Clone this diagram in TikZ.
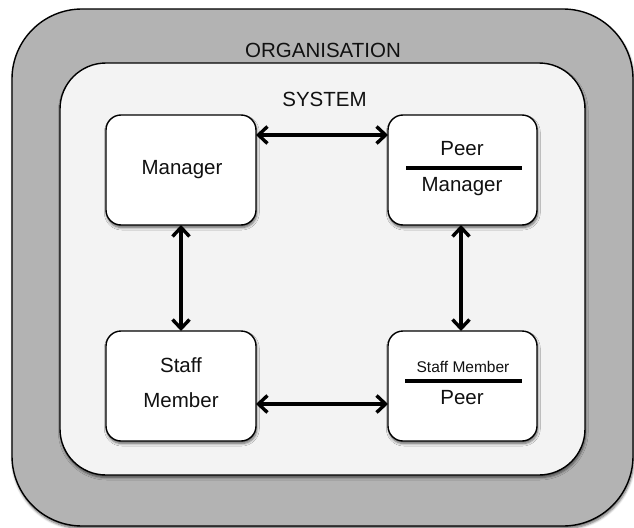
\documentclass[tikz,border=0pt]{standalone}
\usepackage{fontspec}
\setmainfont{Liberation Sans}
\usetikzlibrary{arrows.meta,shadows.blur}
\definecolor{orggray}{HTML}{B3B3B3}
\definecolor{sysgray}{HTML}{F3F3F3}
\definecolor{txt}{HTML}{111111}
\tikzset{
  frame/.style={draw=black, line width=1.4pt},
  boxshadow/.style={blur shadow={shadow xshift=0.8pt, shadow yshift=-2.5pt, shadow blur steps=6, shadow blur radius=2.5pt, shadow opacity=60}},
  rolebox/.style={frame, fill=white, rounded corners=15pt, boxshadow},
  lbl/.style={anchor=base, inner sep=0pt, text=txt, font=\fontsize{20.5}{24}\selectfont},
  smalllbl/.style={anchor=base, inner sep=0pt, text=txt, font=\fontsize{15.5}{18}\selectfont},
  link/.style={line width=3.4pt, {Straight Barb[length=9pt,width=17pt]}-{Straight Barb[length=9pt,width=17pt]}},
  divider/.style={line width=3.6pt}
}
\begin{document}
\begin{tikzpicture}[x=1pt,y=-1pt]
\useasboundingbox (0,0) rectangle (634,527);
% organisation
\path[frame, fill=orggray, rounded corners=70pt, boxshadow] (12,9) rectangle (633,526);
\node[lbl] (org) at (323,57) {ORGANISATION};
% system
\path[frame, fill=sysgray, rounded corners=46pt, boxshadow] (60,63) rectangle (585,475);
\node[lbl] (sys) at (324.5,106) {SYSTEM};
% boxes
\path[rolebox] (106,115) rectangle (256,225);
\path[rolebox] (388,115) rectangle (537,225);
\path[rolebox] (106,331) rectangle (256,441);
\path[rolebox] (388,331) rectangle (537,441);
\coordinate (mgrN) at (181,115); \coordinate (mgrS) at (181,225);
\coordinate (mgrE) at (256,135);
\coordinate (pmW) at (388,135); \coordinate (pmS) at (461,225);
\coordinate (smN) at (181,331); \coordinate (smE) at (256,404);
\coordinate (spN) at (461,331); \coordinate (spW) at (388,404);
% texts
\node[lbl] (mgr) at (182,174) {Manager};
\node[lbl] (pmtop) at (462,155) {Peer};
\coordinate (pmL) at (406,168); \coordinate (pmR) at (522,168);
\draw[divider] (pmL) -- (pmR);
\node[lbl] (pmbot) at (462,191) {Manager};
\node[lbl] (sm1) at (181,372) {Staff};
\node[lbl] (sm2) at (181,407) {Member};
\node[smalllbl] (sptop) at (463,372) {Staff Member};
\coordinate (spL) at (405,381); \coordinate (spR) at (522,381);
\draw[divider] (spL) -- (spR);
\node[lbl] (spbot) at (462,404) {Peer};
% connectors
\draw[link] (mgrE) -- (pmW);
\draw[link] (mgrS) -- (smN);
\draw[link] (pmS) -- (spN);
\draw[link] (smE) -- (spW);
\end{tikzpicture}
\end{document}
